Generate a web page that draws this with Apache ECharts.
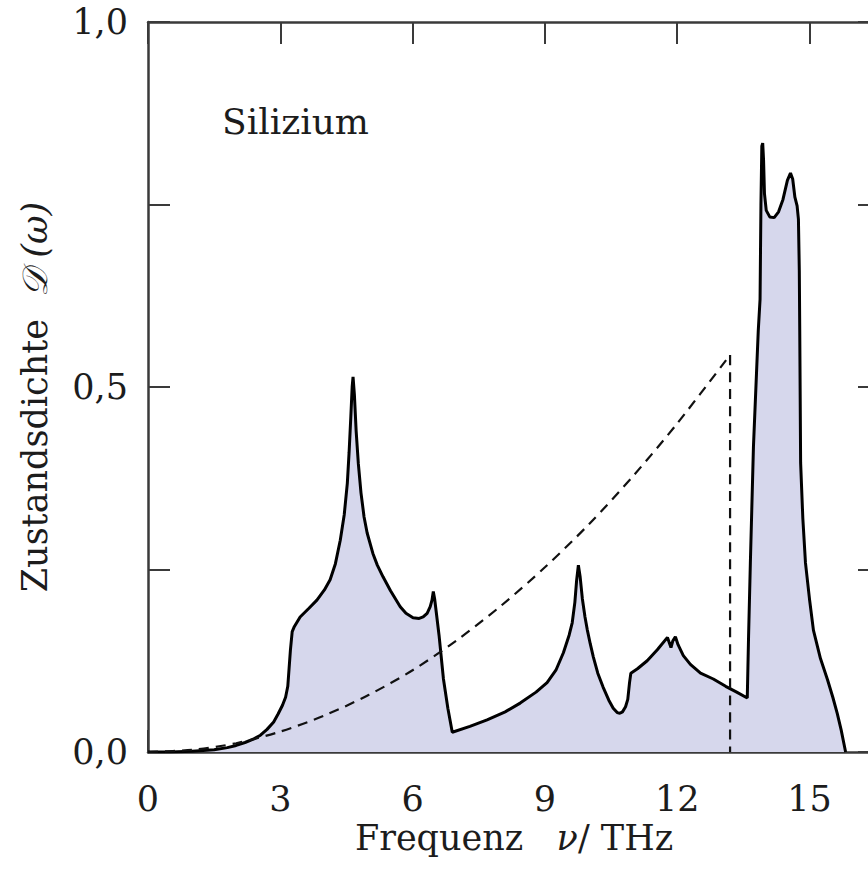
<!DOCTYPE html>
<html>
<head>
<meta charset="utf-8">
<script src="https://cdn.jsdelivr.net/npm/echarts@6/dist/echarts.min.js"></script>
<style>
  html, body { margin: 0; background: #fff; }
  #chart { width: 868px; height: 875px; }
</style>
</head>
<body>
<div id="chart"></div>
<script>
// Zustandsdichte der Phononen in Silizium, plus Debye-Näherung (gestrichelt)
const freq = [
  0, 0.5, 1.0, 1.5, 1.8, 2.0, 2.2, 2.4, 2.55, 2.7, 2.85, 2.95, 3.05, 3.12, 3.17, 3.2, 3.23, 3.27, 3.32,
  3.45, 3.65, 3.83, 4.0, 4.13, 4.25, 4.36, 4.45, 4.52, 4.56, 4.6, 4.63, 4.65, 4.68, 4.72, 4.77, 4.83,
  4.9, 4.97, 5.1, 5.2, 5.33, 5.5, 5.72, 5.85, 6.01, 6.15, 6.24, 6.33, 6.4, 6.44, 6.47, 6.5, 6.54, 6.6,
  6.7, 6.8, 6.9, 7.3, 7.69, 8.1, 8.44, 8.8, 9.05, 9.25, 9.42, 9.55, 9.62, 9.68, 9.72, 9.76, 9.8, 9.85,
  9.91, 9.96, 10.03, 10.1, 10.2, 10.32, 10.45, 10.55, 10.64, 10.7, 10.76, 10.83, 10.88, 10.92, 10.95,
  11.1, 11.32, 11.55, 11.78, 11.82, 11.86, 11.9, 11.96, 12.02, 12.14, 12.3, 12.53, 12.82, 13.1, 13.35,
  13.59, 13.62, 13.66, 13.73, 13.8, 13.84, 13.88, 13.9, 13.92, 13.94, 13.96, 13.98, 14.02, 14.1, 14.2,
  14.3, 14.4, 14.5, 14.57, 14.62, 14.67, 14.72, 14.75, 14.77, 14.78, 14.8, 14.85, 14.91, 15.0, 15.09,
  15.25, 15.41, 15.53, 15.63, 15.72, 15.78, 15.82
];
const dos = [
  0, 0, 0.001, 0.003, 0.006, 0.009, 0.013, 0.018, 0.023, 0.031, 0.041, 0.052, 0.064, 0.075, 0.09, 0.115, 0.14, 0.165, 0.172,
  0.185, 0.197, 0.208, 0.222, 0.236, 0.258, 0.29, 0.325, 0.368, 0.41, 0.46, 0.5, 0.514, 0.49, 0.44, 0.395, 0.355,
  0.322, 0.3, 0.272, 0.256, 0.24, 0.221, 0.199, 0.19, 0.184, 0.183, 0.185, 0.19, 0.199, 0.208, 0.22, 0.21, 0.19, 0.16,
  0.1, 0.06, 0.027, 0.035, 0.044, 0.055, 0.067, 0.082, 0.095, 0.112, 0.136, 0.16, 0.177, 0.205, 0.235, 0.256, 0.24, 0.21,
  0.185, 0.168, 0.148, 0.13, 0.108, 0.089, 0.071, 0.06, 0.054, 0.053, 0.055, 0.062, 0.072, 0.095, 0.108,
  0.114, 0.125, 0.14, 0.157, 0.15, 0.143, 0.152, 0.158, 0.147, 0.132, 0.12, 0.108, 0.1, 0.09, 0.082,
  0.074, 0.16, 0.259, 0.418, 0.52, 0.578, 0.62, 0.75, 0.83, 0.834, 0.81, 0.765, 0.742, 0.733, 0.732,
  0.74, 0.757, 0.783, 0.793, 0.785, 0.76, 0.748, 0.73, 0.66, 0.578, 0.396, 0.32, 0.259, 0.21, 0.167,
  0.128, 0.099, 0.075, 0.053, 0.03, 0.012, 0
];
const debyeFreq = [0, 1, 2, 3, 4, 5, 6, 7, 8, 9, 10, 11, 12, 13.2, 13.2];
const debyeDos  = [0, 0.003, 0.012, 0.028, 0.05, 0.078, 0.112, 0.153, 0.2, 0.253, 0.312, 0.378, 0.45, 0.544, 0];

const FONT = 'DejaVu Serif';
const SIZE = 35;
const INK = '#1c1c1c';
const AXIS = '#3a3a3a';
const FILL = '#d6d7ec';

const zip = (xs, ys) => xs.map((x, i) => [x, ys[i]]);
const comma = v => v.toFixed(1).replace('.', ',');

const chart = echarts.init(document.getElementById('chart'), null, { renderer: 'svg' });

const frameX = pos => ({
  type: 'value', position: pos, min: 0, max: 16.6, interval: 3,
  axisLine: { onZero: false, lineStyle: { color: AXIS, width: 2.5 } },
  axisTick: { inside: true, length: 22, lineStyle: { color: AXIS, width: 2 } },
  splitLine: { show: false },
  axisLabel: { show: false },
});
const frameY = pos => ({
  type: 'value', position: pos, min: 0, max: 1, interval: 0.25,
  axisLine: { onZero: false, lineStyle: { color: AXIS, width: 2.5 } },
  axisTick: { inside: true, length: 22, lineStyle: { color: AXIS, width: 2 } },
  splitLine: { show: false },
  axisLabel: { show: false },
});

const xBottom = frameX('bottom');
xBottom.axisLabel = {
  show: true, margin: 29, color: INK, fontFamily: FONT, fontSize: SIZE,
  formatter: v => (v % 3 === 0 ? String(v) : ''),
};
xBottom.name = 'Frequenz   {i|ν}/ THz';
xBottom.nameLocation = 'middle';
xBottom.nameGap = 67;
xBottom.nameTextStyle = {
  color: INK, fontFamily: FONT, fontSize: SIZE,
  rich: { i: { fontFamily: FONT, fontSize: SIZE, fontStyle: 'italic', color: INK } },
};

const yLeft = frameY('left');
yLeft.axisLabel = {
  show: true, margin: 20, color: INK, fontFamily: FONT, fontSize: SIZE,
  formatter: v => (Math.abs(v * 2 - Math.round(v * 2)) < 1e-9 ? comma(v) : ''),
};
yLeft.name = 'Zustandsdichte  {i|𝒟} {i|(ω)}';
yLeft.nameLocation = 'middle';
yLeft.nameGap = 96;
yLeft.nameTextStyle = {
  color: INK, fontFamily: FONT, fontSize: SIZE, padding: [0, 20, 0, 0],
  rich: { i: { fontFamily: FONT, fontSize: SIZE, fontStyle: 'italic', color: INK } },
};

chart.setOption({
  animation: false,
  title: {
    text: 'Silizium', left: 222, top: 103, padding: 0,
    textStyle: { fontFamily: FONT, fontSize: 36, fontWeight: 'normal', color: INK },
  },
  grid: { left: 148, right: -12, top: 22, bottom: 123, outerBoundsMode: 'none', containLabel: false },
  xAxis: [xBottom, frameX('top')],
  yAxis: [yLeft, frameY('right')],
  series: [
    {
      type: 'line', data: zip(freq, dos), showSymbol: false, silent: true,
      lineStyle: { color: '#000', width: 3 },
      areaStyle: { color: FILL, opacity: 1 },
      z: 2,
    },
    {
      type: 'line', data: zip(debyeFreq, debyeDos), showSymbol: false, silent: true,
      smooth: 0.3,
      lineStyle: { color: '#111', width: 2.2, type: [10, 7] },
      z: 3,
    },
  ],
});
</script>
</body>
</html>
